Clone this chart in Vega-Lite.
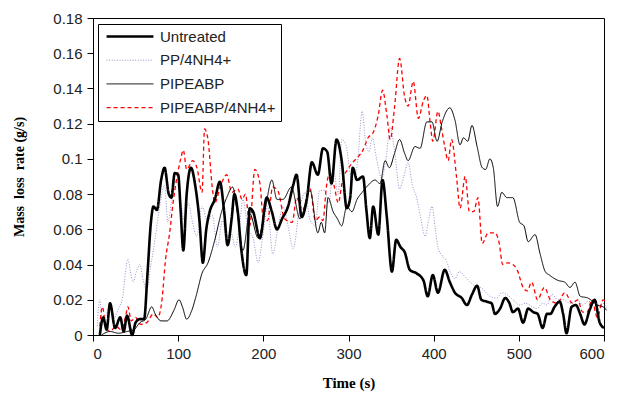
{
"$schema": "https://vega.github.io/schema/vega-lite/v6.json",
"width": 511, "height": 317,
"autosize": {"type": "none"},
"padding": {"left": 93, "top": 18, "right": 27, "bottom": 70},
"background": "white",
"config": {"view": {"stroke": "black", "strokeWidth": 1}, "font": "Liberation Sans"},
"datasets": {
"pp": [{"t":5,"v":0.005},{"t":8,"v":0.020},{"t":11,"v":0.008},{"t":16,"v":0.012},{"t":20,"v":0.018},{"t":25,"v":0.010},{"t":30,"v":0.015},{"t":35,"v":0.022},{"t":38,"v":0.035},{"t":41,"v":0.043},{"t":44,"v":0.036},{"t":47,"v":0.030},{"t":51,"v":0.036},{"t":55,"v":0.040},{"t":59,"v":0.031},{"t":63,"v":0.026},{"t":68,"v":0.040},{"t":73,"v":0.055},{"t":79,"v":0.075},{"t":84,"v":0.085},{"t":88,"v":0.064},{"t":92,"v":0.075},{"t":97,"v":0.088},{"t":102,"v":0.080},{"t":107,"v":0.065},{"t":112,"v":0.075},{"t":116,"v":0.066},{"t":122,"v":0.056},{"t":128,"v":0.073},{"t":134,"v":0.065},{"t":140,"v":0.068},{"t":146,"v":0.050},{"t":152,"v":0.065},{"t":157,"v":0.055},{"t":162,"v":0.058},{"t":167,"v":0.050},{"t":172,"v":0.062},{"t":176,"v":0.077},{"t":182,"v":0.060},{"t":188,"v":0.055},{"t":194,"v":0.041},{"t":199,"v":0.055},{"t":205,"v":0.073},{"t":211,"v":0.046},{"t":217,"v":0.060},{"t":223,"v":0.073},{"t":229,"v":0.062},{"t":235,"v":0.049},{"t":242,"v":0.070},{"t":249,"v":0.081},{"t":255,"v":0.065},{"t":261,"v":0.062},{"t":266,"v":0.082},{"t":272,"v":0.082},{"t":277,"v":0.075},{"t":282,"v":0.094},{"t":288,"v":0.080},{"t":292,"v":0.111},{"t":297,"v":0.108},{"t":302,"v":0.092},{"t":306,"v":0.088},{"t":311,"v":0.100},{"t":316,"v":0.127},{"t":320,"v":0.110},{"t":324,"v":0.104},{"t":328,"v":0.112},{"t":333,"v":0.100},{"t":339,"v":0.089},{"t":344,"v":0.100},{"t":349,"v":0.118},{"t":354,"v":0.105},{"t":360,"v":0.083},{"t":365,"v":0.090},{"t":370,"v":0.098},{"t":375,"v":0.085},{"t":380,"v":0.078},{"t":385,"v":0.066},{"t":390,"v":0.056},{"t":394,"v":0.065},{"t":398,"v":0.073},{"t":402,"v":0.060},{"t":405,"v":0.050},{"t":410,"v":0.045},{"t":415,"v":0.042},{"t":420,"v":0.035},{"t":425,"v":0.032},{"t":430,"v":0.036},{"t":437,"v":0.033},{"t":443,"v":0.030},{"t":448,"v":0.028},{"t":455,"v":0.027},{"t":460,"v":0.025},{"t":466,"v":0.022},{"t":474,"v":0.021},{"t":480,"v":0.024},{"t":486,"v":0.023},{"t":493,"v":0.020},{"t":501,"v":0.017},{"t":508,"v":0.018},{"t":516,"v":0.016},{"t":521,"v":0.015},{"t":528,"v":0.018},{"t":533,"v":0.017},{"t":539,"v":0.023},{"t":546,"v":0.020},{"t":552,"v":0.020},{"t":560,"v":0.018},{"t":569,"v":0.020},{"t":575,"v":0.017},{"t":581,"v":0.019},{"t":587,"v":0.019},{"t":593,"v":0.017},{"t":599,"v":0.018},{"t":603,"v":0.015}],
"red": [{"t":8,"v":0.005},{"t":11,"v":0.016},{"t":15,"v":0.005},{"t":20,"v":0.002},{"t":27,"v":0.005},{"t":33,"v":0.003},{"t":38,"v":0.010},{"t":41,"v":0.016},{"t":45,"v":0.008},{"t":50,"v":0.010},{"t":56,"v":0.006},{"t":63,"v":0.007},{"t":71,"v":0.012},{"t":76,"v":0.010},{"t":81,"v":0.020},{"t":85,"v":0.042},{"t":90,"v":0.058},{"t":94,"v":0.075},{"t":98,"v":0.088},{"t":103,"v":0.100},{"t":106,"v":0.105},{"t":110,"v":0.094},{"t":117,"v":0.099},{"t":122,"v":0.095},{"t":128,"v":0.081},{"t":131,"v":0.117},{"t":135,"v":0.111},{"t":140,"v":0.084},{"t":143,"v":0.075},{"t":150,"v":0.085},{"t":157,"v":0.091},{"t":163,"v":0.081},{"t":170,"v":0.083},{"t":175,"v":0.077},{"t":179,"v":0.080},{"t":184,"v":0.062},{"t":190,"v":0.094},{"t":196,"v":0.086},{"t":200,"v":0.066},{"t":205,"v":0.065},{"t":211,"v":0.084},{"t":217,"v":0.082},{"t":225,"v":0.066},{"t":234,"v":0.064},{"t":239,"v":0.078},{"t":246,"v":0.071},{"t":255,"v":0.083},{"t":261,"v":0.065},{"t":266,"v":0.067},{"t":270,"v":0.065},{"t":274,"v":0.084},{"t":278,"v":0.092},{"t":283,"v":0.085},{"t":288,"v":0.075},{"t":293,"v":0.088},{"t":299,"v":0.094},{"t":305,"v":0.098},{"t":311,"v":0.101},{"t":317,"v":0.105},{"t":323,"v":0.112},{"t":329,"v":0.115},{"t":335,"v":0.125},{"t":340,"v":0.139},{"t":345,"v":0.125},{"t":349,"v":0.111},{"t":354,"v":0.129},{"t":360,"v":0.157},{"t":366,"v":0.135},{"t":370,"v":0.130},{"t":376,"v":0.144},{"t":382,"v":0.123},{"t":388,"v":0.133},{"t":392,"v":0.136},{"t":396,"v":0.120},{"t":399,"v":0.110},{"t":405,"v":0.127},{"t":409,"v":0.118},{"t":413,"v":0.107},{"t":417,"v":0.099},{"t":421,"v":0.111},{"t":427,"v":0.089},{"t":431,"v":0.072},{"t":437,"v":0.090},{"t":442,"v":0.070},{"t":447,"v":0.070},{"t":452,"v":0.078},{"t":457,"v":0.052},{"t":464,"v":0.058},{"t":472,"v":0.058},{"t":477,"v":0.052},{"t":481,"v":0.040},{"t":487,"v":0.041},{"t":493,"v":0.040},{"t":498,"v":0.037},{"t":505,"v":0.027},{"t":510,"v":0.025},{"t":515,"v":0.030},{"t":522,"v":0.020},{"t":530,"v":0.027},{"t":537,"v":0.020},{"t":545,"v":0.018},{"t":554,"v":0.024},{"t":563,"v":0.018},{"t":569,"v":0.020},{"t":575,"v":0.013},{"t":580,"v":0.013},{"t":586,"v":0.020},{"t":592,"v":0.010},{"t":599,"v":0.020},{"t":603,"v":0.018}],
"thin": [{"t":10,"v":0.000},{"t":20,"v":0.002},{"t":30,"v":0.001},{"t":40,"v":0.002},{"t":48,"v":0.003},{"t":55,"v":0.007},{"t":62,"v":0.009},{"t":69,"v":0.016},{"t":73,"v":0.012},{"t":80,"v":0.008},{"t":87,"v":0.008},{"t":95,"v":0.014},{"t":101,"v":0.020},{"t":105,"v":0.016},{"t":110,"v":0.009},{"t":116,"v":0.014},{"t":121,"v":0.022},{"t":128,"v":0.035},{"t":135,"v":0.041},{"t":143,"v":0.054},{"t":151,"v":0.070},{"t":157,"v":0.078},{"t":164,"v":0.084},{"t":169,"v":0.071},{"t":176,"v":0.048},{"t":184,"v":0.069},{"t":194,"v":0.055},{"t":202,"v":0.071},{"t":210,"v":0.088},{"t":216,"v":0.077},{"t":223,"v":0.077},{"t":233,"v":0.084},{"t":243,"v":0.066},{"t":255,"v":0.082},{"t":264,"v":0.058},{"t":268,"v":0.064},{"t":272,"v":0.058},{"t":276,"v":0.078},{"t":282,"v":0.070},{"t":287,"v":0.066},{"t":292,"v":0.062},{"t":298,"v":0.073},{"t":304,"v":0.070},{"t":310,"v":0.077},{"t":316,"v":0.081},{"t":323,"v":0.085},{"t":331,"v":0.088},{"t":337,"v":0.086},{"t":343,"v":0.099},{"t":348,"v":0.095},{"t":354,"v":0.103},{"t":360,"v":0.111},{"t":366,"v":0.103},{"t":370,"v":0.099},{"t":378,"v":0.107},{"t":384,"v":0.106},{"t":392,"v":0.121},{"t":398,"v":0.121},{"t":404,"v":0.110},{"t":410,"v":0.121},{"t":419,"v":0.129},{"t":425,"v":0.122},{"t":431,"v":0.108},{"t":435,"v":0.112},{"t":440,"v":0.110},{"t":445,"v":0.119},{"t":451,"v":0.107},{"t":457,"v":0.095},{"t":461,"v":0.094},{"t":466,"v":0.100},{"t":470,"v":0.095},{"t":475,"v":0.073},{"t":480,"v":0.081},{"t":486,"v":0.078},{"t":493,"v":0.078},{"t":501,"v":0.064},{"t":506,"v":0.062},{"t":511,"v":0.053},{"t":519,"v":0.057},{"t":525,"v":0.046},{"t":531,"v":0.036},{"t":536,"v":0.034},{"t":546,"v":0.031},{"t":554,"v":0.030},{"t":560,"v":0.027},{"t":566,"v":0.030},{"t":572,"v":0.022},{"t":581,"v":0.021},{"t":587,"v":0.019},{"t":592,"v":0.017},{"t":599,"v":0.016},{"t":603,"v":0.014}],
"thick": [{"t":8,"v":0},{"t":12,"v":0.010},{"t":16,"v":0.003},{"t":20,"v":0.018},{"t":26,"v":0.004},{"t":32,"v":0.010},{"t":36,"v":0.002},{"t":40,"v":0.011},{"t":46,"v":0.000},{"t":50,"v":0.007},{"t":55,"v":0.009},{"t":60,"v":0.009},{"t":64,"v":0.035},{"t":68,"v":0.064},{"t":71,"v":0.073},{"t":75,"v":0.071},{"t":80,"v":0.088},{"t":84,"v":0.095},{"t":89,"v":0.080},{"t":92,"v":0.078},{"t":96,"v":0.092},{"t":100,"v":0.091},{"t":103,"v":0.070},{"t":106,"v":0.048},{"t":110,"v":0.080},{"t":115,"v":0.095},{"t":120,"v":0.085},{"t":125,"v":0.065},{"t":129,"v":0.041},{"t":133,"v":0.060},{"t":137,"v":0.070},{"t":143,"v":0.077},{"t":149,"v":0.087},{"t":154,"v":0.070},{"t":158,"v":0.051},{"t":163,"v":0.067},{"t":166,"v":0.080},{"t":170,"v":0.070},{"t":174,"v":0.049},{"t":180,"v":0.034},{"t":184,"v":0.072},{"t":188,"v":0.070},{"t":196,"v":0.055},{"t":204,"v":0.078},{"t":210,"v":0.070},{"t":216,"v":0.060},{"t":222,"v":0.066},{"t":229,"v":0.073},{"t":235,"v":0.085},{"t":239,"v":0.091},{"t":245,"v":0.067},{"t":251,"v":0.077},{"t":257,"v":0.098},{"t":264,"v":0.091},{"t":270,"v":0.106},{"t":275,"v":0.104},{"t":280,"v":0.086},{"t":286,"v":0.111},{"t":292,"v":0.099},{"t":298,"v":0.072},{"t":302,"v":0.078},{"t":305,"v":0.095},{"t":310,"v":0.088},{"t":317,"v":0.090},{"t":321,"v":0.071},{"t":325,"v":0.055},{"t":329,"v":0.073},{"t":335,"v":0.057},{"t":340,"v":0.088},{"t":345,"v":0.067},{"t":351,"v":0.036},{"t":356,"v":0.054},{"t":361,"v":0.050},{"t":366,"v":0.047},{"t":372,"v":0.037},{"t":380,"v":0.035},{"t":388,"v":0.031},{"t":393,"v":0.022},{"t":399,"v":0.034},{"t":405,"v":0.024},{"t":413,"v":0.037},{"t":419,"v":0.030},{"t":425,"v":0.024},{"t":433,"v":0.021},{"t":439,"v":0.017},{"t":445,"v":0.023},{"t":451,"v":0.028},{"t":456,"v":0.020},{"t":462,"v":0.019},{"t":468,"v":0.018},{"t":472,"v":0.012},{"t":478,"v":0.015},{"t":484,"v":0.021},{"t":489,"v":0.018},{"t":493,"v":0.013},{"t":499,"v":0.015},{"t":505,"v":0.007},{"t":511,"v":0.015},{"t":517,"v":0.013},{"t":522,"v":0.012},{"t":528,"v":0.004},{"t":533,"v":0.012},{"t":537,"v":0.012},{"t":542,"v":0.016},{"t":548,"v":0.019},{"t":552,"v":0.012},{"t":556,"v":0.001},{"t":562,"v":0.016},{"t":567,"v":0.017},{"t":572,"v":0.012},{"t":577,"v":0.006},{"t":583,"v":0.014},{"t":589,"v":0.020},{"t":595,"v":0.007},{"t":600,"v":0.004}]
},
"layer": [
 {"data": {"name": "pp"}, "mark": {"type": "line", "interpolate": "monotone"},
  "encoding": {"color": {"datum": "PP/4NH4+"}, "strokeDash": {"datum": "PP/4NH4+"}, "strokeWidth": {"datum": "PP/4NH4+"}}},
 {"data": {"name": "red"}, "mark": {"type": "line", "interpolate": "monotone"},
  "encoding": {"color": {"datum": "PIPEABP/4NH4+"}, "strokeDash": {"datum": "PIPEABP/4NH4+"}, "strokeWidth": {"datum": "PIPEABP/4NH4+"}}},
 {"data": {"name": "thin"}, "mark": {"type": "line", "interpolate": "monotone"},
  "encoding": {"color": {"datum": "PIPEABP"}, "strokeDash": {"datum": "PIPEABP"}, "strokeWidth": {"datum": "PIPEABP"}}},
 {"data": {"name": "thick"}, "mark": {"type": "line", "interpolate": "monotone"},
  "encoding": {"color": {"datum": "Untreated"}, "strokeDash": {"datum": "Untreated"}, "strokeWidth": {"datum": "Untreated"}}}
],
"encoding": {
 "x": {"field": "t", "type": "quantitative", "scale": {"domain": [0, 600], "nice": false},
   "axis": {"values": [0,100,200,300,400,500,600], "title": "Time (s)", "grid": false, "domainColor": "black", "tickColor": "black", "tickSize": 6, "labelFontSize": 15, "labelColor": "#222", "labelPadding": 5, "titleFont": "Liberation Serif", "titleFontWeight": "bold", "titleFontSize": 15, "titleColor": "black", "titlePadding": 14}},
 "y": {"field": "v", "type": "quantitative", "scale": {"domain": [0, 0.18], "nice": false},
   "axis": {"values": [0,0.02,0.04,0.06,0.08,0.1,0.12,0.14,0.16,0.18], "format": "~g", "title": "Mass\u2002loss\u2002rate (g/s)", "grid": false, "domainColor": "black", "tickColor": "black", "tickSize": 6, "labelFontSize": 15, "labelColor": "#222", "labelPadding": 5, "titleFont": "Liberation Serif", "titleFontWeight": "bold", "titleFontSize": 14, "titleColor": "black", "titlePadding": 26}},
 "color": {"type": "nominal", "scale": {"domain": ["Untreated","PP/4NH4+","PIPEABP","PIPEABP/4NH4+"], "range": ["#000000","#a08ccc","#000000","#ff0000"]},
   "legend": {"title": null, "orient": "none", "legendX": 5, "legendY": 6, "strokeColor": "black", "fillColor": "white", "padding": 5, "symbolOffset": 2, "symbolSize": 2200, "symbolType": "stroke", "clipHeight": 15, "labelFontSize": 15, "labelColor": "#222", "labelOffset": 5, "rowPadding": 7.7, "labelLimit": 300}},
 "strokeDash": {"type": "nominal", "scale": {"domain": ["Untreated","PP/4NH4+","PIPEABP","PIPEABP/4NH4+"], "range": [[1,0],[1,1.6],[1,0],[4,3]]}, "legend": {"title": null}},
 "strokeWidth": {"type": "nominal", "scale": {"type": "ordinal", "domain": ["Untreated","PP/4NH4+","PIPEABP","PIPEABP/4NH4+"], "range": [2.6,1,1,1.3]}, "legend": {"title": null}}
}
}
